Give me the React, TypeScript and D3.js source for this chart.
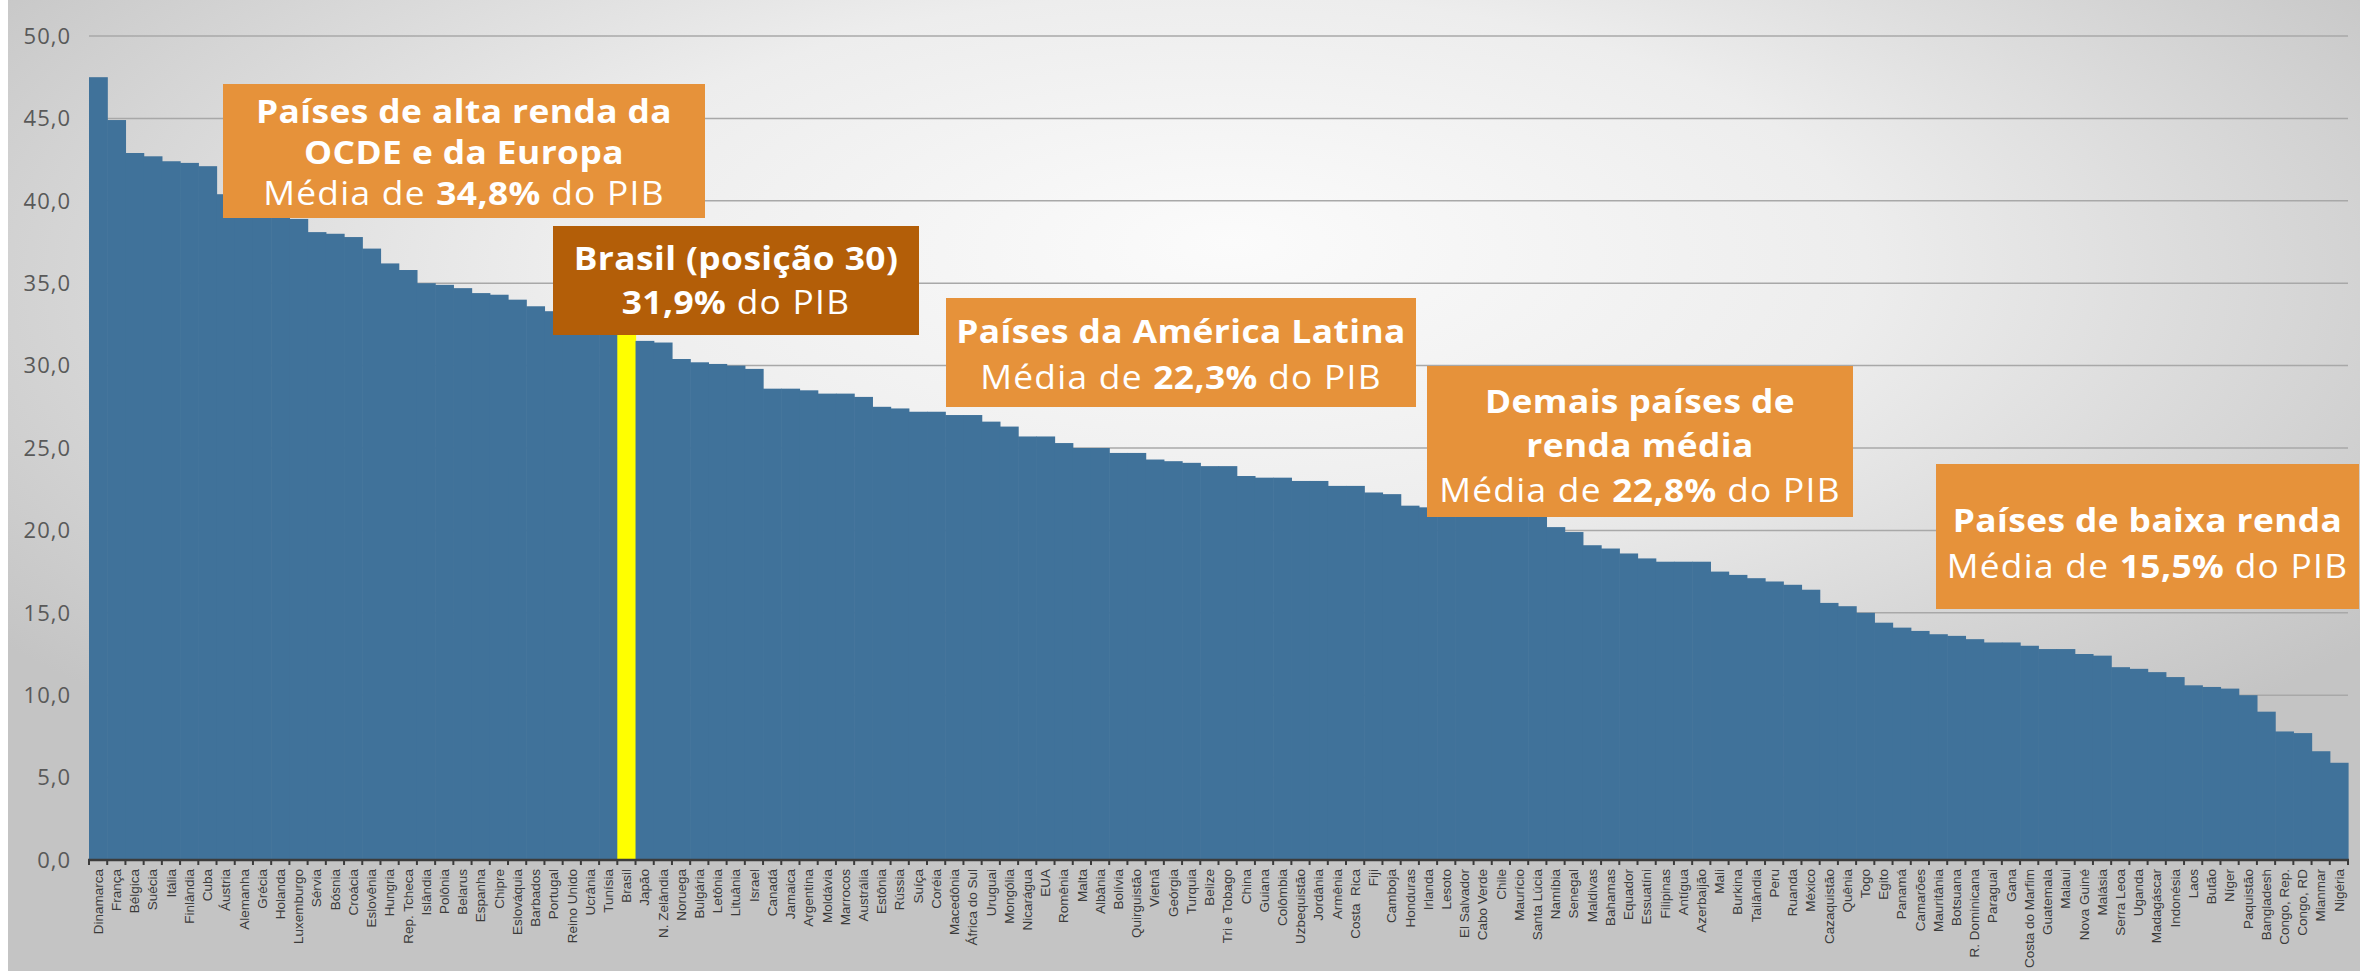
import React from "react";
import * as d3 from "d3";

const countries = [
  "Dinamarca","França","Bélgica","Suécia","Itália","Finlândia","Cuba","Áustria","Alemanha","Grécia",
  "Holanda","Luxemburgo","Sérvia","Bósnia","Croácia","Eslovênia","Hungria","Rep. Tcheca","Islândia","Polônia",
  "Belarus","Espanha","Chipre","Eslováquia","Barbados","Portugal","Reino Unido","Ucrânia","Tunísia","Brasil",
  "Japão","N. Zelândia","Noruega","Bulgária","Letônia","Lituânia","Israel","Canadá","Jamaica","Argentina",
  "Moldávia","Marrocos","Austrália","Estônia","Rússia","Suíça","Coréia","Macedônia","África do Sul","Uruguai",
  "Mongólia","Nicarágua","EUA","Romênia","Malta","Albânia","Bolívia","Quirguistão","Vietnã","Geórgia",
  "Turquia","Belize","Tri e Tobago","China","Guiana","Colômbia","Uzbequistão","Jordânia","Armênia","Costa  Rica",
  "Fiji","Camboja","Honduras","Irlanda","Lesoto","El Salvador","Cabo Verde","Chile","Maurício","Santa Lúcia",
  "Namíbia","Senegal","Maldivas","Bahamas","Equador","Essuatíni","Filipinas","Antígua","Azerbaijão","Mali",
  "Burkina","Tailândia","Peru","Ruanda","México","Cazaquistão","Quênia","Togo","Egito","Panamá",
  "Camarões","Mauritânia","Botsuana","R. Dominicana","Paraguai","Gana","Costa do Marfim","Guatemala","Malaui","Nova Guiné",
  "Malásia","Serra Leoa","Uganda","Madagáscar","Indonésia","Laos","Butão","Níger","Paquistão","Bangladesh",
  "Congo, Rep.","Congo, RD","Mianmar","Nigéria"
];

const values = [
  47.5,44.9,42.9,42.7,42.4,42.3,42.1,40.4,40.0,39.6,
  39.2,38.9,38.1,38.0,37.8,37.1,36.2,35.8,35.0,34.9,
  34.7,34.4,34.3,34.0,33.6,33.3,33.0,32.6,32.2,31.9,
  31.5,31.4,30.4,30.2,30.1,30.0,29.8,28.6,28.6,28.5,
  28.3,28.3,28.1,27.5,27.4,27.2,27.2,27.0,27.0,26.6,
  26.3,25.7,25.7,25.3,25.0,25.0,24.7,24.7,24.3,24.2,
  24.1,23.9,23.9,23.3,23.2,23.2,23.0,23.0,22.7,22.7,
  22.3,22.2,21.5,21.4,21.3,21.2,21.1,21.1,21.0,20.9,
  20.2,19.9,19.1,18.9,18.6,18.3,18.1,18.1,18.1,17.5,
  17.3,17.1,16.9,16.7,16.4,15.6,15.4,15.0,14.4,14.1,
  13.9,13.7,13.6,13.4,13.2,13.2,13.0,12.8,12.8,12.5,
  12.4,11.7,11.6,11.4,11.1,10.6,10.5,10.4,10.0,9.0,
  7.8,7.7,6.6,5.9
];

const highlight = "Brasil";
const yTicks = [0, 5, 10, 15, 20, 25, 30, 35, 40, 45, 50];

type Line = { parts: { t: string; b: boolean }[] };
type Note = { x0: number; x1: number; y0: number; y1: number; fill: string; lines: Line[]; lineYs: number[] };

const notes: Note[] = [
  {
    x0: 223, x1: 705, y0: 84, y1: 218, fill: "#e6923a",
    lines: [
      { parts: [{ t: "Países de alta renda da", b: true }] },
      { parts: [{ t: "OCDE e da Europa", b: true }] },
      { parts: [{ t: "Média de ", b: false }, { t: "34,8%", b: true }, { t: " do PIB", b: false }] },
    ],
    lineYs: [123, 164, 205],
  },
  {
    x0: 553, x1: 919, y0: 226, y1: 335, fill: "#b35e08",
    lines: [
      { parts: [{ t: "Brasil (posição 30)", b: true }] },
      { parts: [{ t: "31,9%", b: true }, { t: " do PIB", b: false }] },
    ],
    lineYs: [270, 314],
  },
  {
    x0: 946, x1: 1416, y0: 298, y1: 407, fill: "#e6923a",
    lines: [
      { parts: [{ t: "Países da América Latina", b: true }] },
      { parts: [{ t: "Média de ", b: false }, { t: "22,3%", b: true }, { t: " do PIB", b: false }] },
    ],
    lineYs: [343, 389],
  },
  {
    x0: 1427, x1: 1853, y0: 366, y1: 517, fill: "#e6923a",
    lines: [
      { parts: [{ t: "Demais países de", b: true }] },
      { parts: [{ t: "renda média", b: true }] },
      { parts: [{ t: "Média de ", b: false }, { t: "22,8%", b: true }, { t: " do PIB", b: false }] },
    ],
    lineYs: [413, 457, 502],
  },
  {
    x0: 1936, x1: 2359, y0: 464, y1: 609, fill: "#e6923a",
    lines: [
      { parts: [{ t: "Países de baixa renda", b: true }] },
      { parts: [{ t: "Média de ", b: false }, { t: "15,5%", b: true }, { t: " do PIB", b: false }] },
    ],
    lineYs: [532, 578],
  },
];

const W = 2362;
const H = 977;
const plotL = 89;
const plotR = 2348;
const plotT = 36;
const plotB = 860;

export default function App() {
  const x = d3.scaleBand<string>().domain(countries).range([plotL, plotR]).padding(0);
  const y = d3.scaleLinear().domain([0, 50]).range([plotB, plotT]);
  const fmt = (v: number) => d3.format(".1f")(v).replace(".", ",");
  const bw = x.bandwidth();

  return (
    <svg width={W} height={H} style={{ position: "absolute", left: 0, top: 0 }}>
      <defs>
        <radialGradient id="bg" cx="0.5" cy="0.3" r="0.62" fx="0.52" fy="0.25">
          <stop offset="0" stopColor="#fbfbfb" />
          <stop offset="0.45" stopColor="#ededed" />
          <stop offset="1" stopColor="#c4c4c4" />
        </radialGradient>
      </defs>
      <rect x={0} y={0} width={W} height={H} fill="#ffffff" />
      <rect x={8} y={0} width={W - 10} height={H - 6} fill="url(#bg)" />

      {yTicks.map((t) => (
        <g key={t}>
          {t > 0 && (
            <line x1={plotL} x2={plotR} y1={y(t)} y2={y(t)} stroke="#a8a8a8" strokeWidth={1.5} />
          )}
          <text
            x={71}
            y={y(t)}
            dy="0.35em"
            textAnchor="end"
            fontFamily="'Open Sans', sans-serif"
            fontSize={22}
            letterSpacing={1}
            fill="#595959"
          >
            {fmt(t)}
          </text>
        </g>
      ))}

      {countries.map((c, i) => (
        <rect
          key={c}
          x={x(c)!}
          y={y(values[i])}
          width={bw + 0.6}
          height={plotB - y(values[i])}
          fill={c === highlight ? "#ffff00" : "#40729a"}
        />
      ))}

      <line x1={plotL - 1} x2={plotR + 1} y1={plotB} y2={plotB} stroke="#3c3c3c" strokeWidth={2.5} />
      {countries.map((c, i) => (
        <line key={"t" + i} x1={x(c)!} x2={x(c)!} y1={plotB} y2={plotB + 5} stroke="#3c3c3c" strokeWidth={2} />
      ))}
      <line x1={plotR} x2={plotR} y1={plotB} y2={plotB + 5} stroke="#3c3c3c" strokeWidth={2} />

      {countries.map((c) => {
        const cx = x(c)! + bw / 2;
        return (
          <text
            key={"l" + c}
            transform={`translate(${cx},${plotB + 9}) rotate(-90)`}
            textAnchor="end"
            dy="0.35em"
            fontFamily="'Liberation Sans', Arial, sans-serif"
            fontSize={13.5}
            fill="#3a3a3a"
            style={{ whiteSpace: "pre" }}
          >
            {c}
          </text>
        );
      })}

      {notes.map((n, k) => (
        <g key={"n" + k}>
          <rect x={n.x0} y={n.y0} width={n.x1 - n.x0} height={n.y1 - n.y0} fill={n.fill} />
          {n.lines.map((ln, j) => (
            <text
              key={j}
              transform={`translate(${(n.x0 + n.x1) / 2},${n.lineYs[j]}) scale(1.07,1)`}
              textAnchor="middle"
              fontFamily="'Open Sans', sans-serif"
              fontSize={33}
              fill="#ffffff"
              style={{ whiteSpace: "pre" }}
            >
              {ln.parts.map((p, m) => (
                <tspan key={m} fontWeight={p.b ? 700 : 400} letterSpacing={p.b ? 0.4 : 1.2}>
                  {p.t}
                </tspan>
              ))}
            </text>
          ))}
        </g>
      ))}
    </svg>
  );
}
